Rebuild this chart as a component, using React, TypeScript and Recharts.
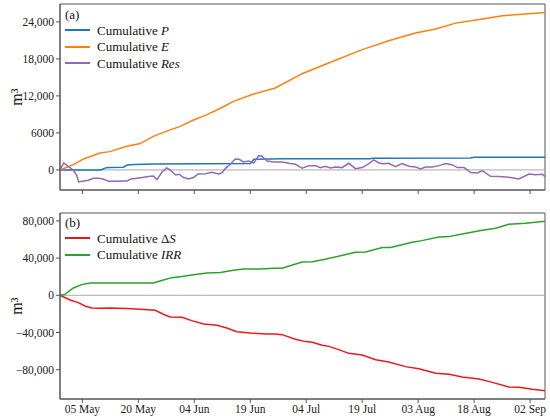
import { LineChart, Line, XAxis, YAxis, ReferenceLine, ReferenceArea } from "recharts";

// day 0 = 29 Apr
const tickDays = [6, 21, 36, 51, 66, 81, 96, 111, 126];
const tickLabels = ["05 May", "20 May", "04 Jun", "19 Jun", "04 Jul", "19 Jul", "03 Aug", "18 Aug", "02 Sep"];

const topTicks = [0, 6000, 12000, 18000, 24000];
const bottomTicks = [-80000, -40000, 0, 40000, 80000];

// panel (a)
const pDays = [0, 11, 12, 13, 17, 18, 20, 25, 51, 52, 60, 83, 84, 110, 111, 130];
const pValues = [0, 0, 300, 400, 450, 800, 900, 980, 1050, 1750, 1800, 1830, 1900, 1950, 2050, 2050];

const eDays = [0, 3.6, 6.3, 10.7, 13.4, 17.9, 21.5, 25, 28.6, 32.2, 35.8, 39.4, 43, 46.5, 51.9, 57.7, 64.9, 72, 81, 88.1, 95.3, 100.7, 106, 113.2, 118.6, 125.7, 130];
const eValues = [0, 860, 1780, 2750, 2970, 3830, 4270, 5450, 6300, 7070, 8100, 8960, 10000, 11120, 12300, 13280, 15600, 17330, 19500, 20950, 22200, 22840, 23800, 24460, 25000, 25330, 25540];

const resDays = [0, 1, 2, 3.5, 4.5, 5, 6.3, 7.6, 9, 10.3, 11.6, 13, 15, 17, 18, 19, 20.6, 22, 23.7, 25, 26, 27.3, 28.6, 29.5, 31, 32, 33, 34.4, 35.8, 37, 39, 40.7, 42.5, 43.5, 44.3, 45.6, 47, 48, 49.2, 50.6, 51.9, 53.2, 54.1, 55.5, 57.3, 59.5, 61.3, 63.1, 64.9, 66.7, 68.5, 69.8, 71.1, 72.5, 73.8, 75.6, 77.4, 79.2, 81, 82.8, 84.1, 85.5, 86.6, 88.1, 89.9, 91.7, 93.5, 95.3, 96.6, 98, 99.8, 101.6, 103.4, 105.2, 106.5, 108.3, 110.1, 111.9, 113.2, 115.4, 117.7, 120.3, 123, 125.7, 127.5, 129.3, 130];
const resValues = [0, 1150, 650, 0, -900, -1950, -1780, -1670, -1350, -1350, -1460, -1850, -1820, -1780, -1780, -1460, -1350, -1240, -1080, -970, -1570, -380, 320, 0, -810, -700, -1190, -1460, -1240, -650, -600, -380, -650, -450, 216, 920, 1780, 1730, 1300, 1460, 1100, 2300, 2270, 1460, 1300, 1300, 1080, 920, 270, 700, 700, 380, 590, 320, 490, 380, 1080, 216, 380, 1030, 1620, 1130, 1000, 1080, 540, 1030, 590, 490, 160, 490, 490, 700, 1030, 810, 380, 380, -430, -490, -110, -1030, -1080, -1190, -1460, -650, -760, -700, -1080];

// panel (b)
const dsDays = [0, 2.7, 4.9, 6.7, 8.5, 10.7, 13.4, 17.9, 21.5, 25.5, 27.7, 29.5, 32.7, 35.3, 38.5, 42.1, 44.7, 47.4, 51, 55.5, 57.7, 59.5, 63.1, 65.8, 67.6, 70.3, 72.1, 74.7, 77.4, 81, 84.6, 88.1, 92.6, 96.2, 100.7, 104.3, 107.8, 112.3, 115.9, 120.3, 123, 126.6, 130];
const dsValues = [0, -5000, -7900, -11500, -13600, -14000, -13600, -14300, -15100, -16100, -20400, -23300, -23700, -27200, -30800, -32300, -35100, -39100, -40500, -41600, -41600, -42300, -47300, -49800, -50500, -53800, -54900, -58400, -62400, -64200, -69200, -71700, -76700, -78900, -83900, -85000, -87800, -90000, -93600, -98600, -98900, -101100, -102500];

const irrDays = [0, 1.3, 3.6, 5.8, 8, 25, 27.7, 30, 32.7, 35.8, 39.4, 43, 46.5, 49.2, 53.7, 57.3, 59.5, 64.9, 67.6, 71.1, 79.2, 81.9, 86.4, 88.6, 94.4, 97, 101.6, 104.3, 107.8, 113.2, 116.8, 120.3, 124.8, 130];
const irrValues = [0, 1000, 7900, 11500, 13300, 13300, 16500, 19000, 20100, 22200, 24000, 24400, 26900, 28300, 28300, 29000, 29000, 35850, 36200, 38700, 46200, 46600, 51300, 51300, 57000, 58800, 62700, 63100, 66000, 69900, 72100, 76400, 77400, 79600];

const toPoints = (days: number[], values: number[]) => days.map((day, i) => ({ day, v: values[i] }));

const FONT = "'Liberation Serif', 'DejaVu Serif', serif";
const FRAME = "#555";
const tickStyle = { fill: "#222", fontSize: 11.5, fontFamily: FONT };

const fmt = (v: number) => {
  const a = Math.abs(v);
  const s = a >= 10000 ? a.toLocaleString("en-US") : String(a);
  return v < 0 ? "\u2212" + s : s;
};

const YLabel = ({ viewBox }: any) => {
  const cy = viewBox.y + viewBox.height / 2;
  return (
    <text x={16} y={cy} transform={`rotate(-90 16 ${cy})`} textAnchor="middle" dominantBaseline="central" fontSize={16} fontFamily={FONT} fill="#111">
      m³
    </text>
  );
};

const LegendRow = ({ color, children }: any) => (
  <div style={{ display: "flex", alignItems: "center", height: 16.5 }}>
    <span style={{ display: "inline-block", width: 25, height: 2, background: color, marginRight: 7 }} />
    <span>{children}</span>
  </div>
);

const legendBox: any = { position: "absolute", left: 65, fontFamily: FONT, fontSize: 13, color: "#111", lineHeight: 1 };

const App = () => {
  return (
    <div style={{ position: "absolute", left: 0, top: 0, width: 550, height: 419, background: "#fff" }}>
      <LineChart width={550} height={205} margin={{ top: 4, right: 5, left: 0, bottom: 0 }}>
        <XAxis dataKey="day" type="number" domain={[0, 130]} ticks={tickDays} tickFormatter={() => ""} height={15}
          axisLine={{ stroke: FRAME }} tickLine={{ stroke: FRAME }} tickSize={4} />
        <YAxis type="number" domain={[-3250, 26900]} ticks={topTicks} tickFormatter={fmt} width={60} tick={tickStyle}
          axisLine={{ stroke: FRAME }} tickLine={{ stroke: FRAME }} tickSize={4} label={<YLabel />} />
        <ReferenceLine y={0} stroke="#aaa" strokeWidth={1} />
        <ReferenceArea x1={0} x2={130} y1={-3250} y2={26900} fill="none" stroke={FRAME} strokeWidth={1} />
        <Line data={toPoints(pDays, pValues)} dataKey="v" type="linear" stroke="#1f77b4" strokeWidth={1.5} dot={false} isAnimationActive={false} />
        <Line data={toPoints(eDays, eValues)} dataKey="v" type="linear" stroke="#ff7f0e" strokeWidth={1.5} dot={false} isAnimationActive={false} />
        <Line data={toPoints(resDays, resValues)} dataKey="v" type="linear" stroke="#9467bd" strokeWidth={1.5} dot={false} isAnimationActive={false} />
      </LineChart>
      <LineChart width={550} height={214} margin={{ top: 8, right: 5, left: 0, bottom: 0 }}>
        <XAxis dataKey="day" type="number" domain={[0, 130]} ticks={tickDays} tickFormatter={(d: number) => tickLabels[tickDays.indexOf(d)]}
          height={20} tick={tickStyle} axisLine={{ stroke: FRAME }} tickLine={{ stroke: FRAME }} tickSize={4} />
        <YAxis type="number" domain={[-111500, 88500]} ticks={bottomTicks} tickFormatter={fmt} width={60} tick={tickStyle}
          axisLine={{ stroke: FRAME }} tickLine={{ stroke: FRAME }} tickSize={4} label={<YLabel />} />
        <ReferenceLine y={0} stroke="#aaa" strokeWidth={1} />
        <ReferenceArea x1={0} x2={130} y1={-111500} y2={88500} fill="none" stroke={FRAME} strokeWidth={1} />
        <Line data={toPoints(dsDays, dsValues)} dataKey="v" type="linear" stroke="#e8191c" strokeWidth={1.5} dot={false} isAnimationActive={false} />
        <Line data={toPoints(irrDays, irrValues)} dataKey="v" type="linear" stroke="#2ca02c" strokeWidth={1.5} dot={false} isAnimationActive={false} />
      </LineChart>

      <div style={{ ...legendBox, top: 8 }}>
        <div style={{ height: 14 }}>(a)</div>
        <LegendRow color="#1f77b4">Cumulative <i>P</i></LegendRow>
        <LegendRow color="#ff7f0e">Cumulative <i>E</i></LegendRow>
        <LegendRow color="#9467bd">Cumulative <i>Res</i></LegendRow>
      </div>
      <div style={{ ...legendBox, top: 216 }}>
        <div style={{ height: 14 }}>(b)</div>
        <LegendRow color="#e8191c">Cumulative Δ<i>S</i></LegendRow>
        <LegendRow color="#2ca02c">Cumulative <i>IRR</i></LegendRow>
      </div>
    </div>
  );
};

export default App;
